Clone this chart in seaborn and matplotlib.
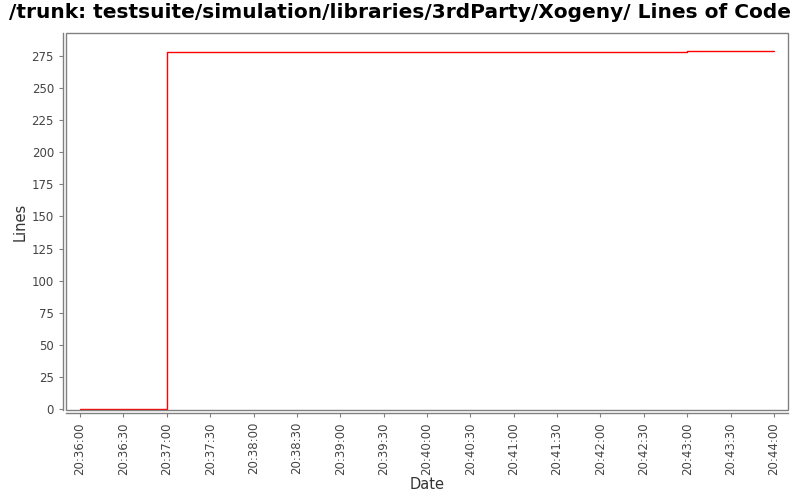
import matplotlib
matplotlib.use("Agg")
import matplotlib.pyplot as plt
import matplotlib.dates as mdates
from matplotlib.patches import Rectangle
import seaborn as sns
import pandas as pd

times = ["2020-01-01 20:36:00", "2020-01-01 20:37:00", "2020-01-01 20:43:00", "2020-01-01 20:44:00"]
lines = [0, 278, 279, 279]
yticks = list(range(0, 276, 25))

df = pd.DataFrame({"Date": pd.to_datetime(times), "Lines": lines})

sns.set_style("white")
plt.rcParams['font.family'] = ['DejaVu Sans']

fig = plt.figure(figsize=(8, 5), dpi=100)
ax = fig.add_axes([66/800, 1 - 410/500, (788 - 66)/800, (410 - 33)/500])

sns.lineplot(data=df, x="Date", y="Lines", ax=ax, color="#ff0000", linewidth=1.0,
             drawstyle="steps-post", estimator=None)

ax.set_xlim(pd.Timestamp("2020-01-01 20:35:50.3"), pd.Timestamp("2020-01-01 20:44:09.7"))
ax.set_ylim(-0.8, 293)
ax.set_yticks(yticks)
ax.xaxis.set_major_locator(mdates.SecondLocator(bysecond=[0, 30]))
ax.xaxis.set_major_formatter(mdates.DateFormatter("%H:%M:%S"))
ax.tick_params(axis="x", labelrotation=90)

grey = "#808080"
for s in ["top", "right"]:
    ax.spines[s].set_visible(False)
for s in ["left", "bottom"]:
    ax.spines[s].set_position(("outward", 2.2))
    ax.spines[s].set_color(grey)
    ax.spines[s].set_linewidth(1.0)
ax.add_patch(Rectangle((0, 0), 1, 1, transform=ax.transAxes, fill=False,
                       edgecolor=grey, linewidth=1.0, clip_on=False, zorder=5))

ax.tick_params(axis="both", colors=grey, labelcolor="#444444", labelsize=8.5,
               length=3, width=0.8, direction="out", bottom=True, left=True)

ax.set_xlabel("Date", fontsize=10.5, color="#333333", labelpad=2)
ax.set_ylabel("Lines", fontsize=10.5, color="#333333", labelpad=3)
fig.text(0.5, 1 - 12/500, "/trunk: testsuite/simulation/libraries/3rdParty/Xogeny/ Lines of Code",
         fontsize=14.5, fontweight="bold", color="#000000", ha="center", va="center")

fig.savefig("out.png", dpi=100)
